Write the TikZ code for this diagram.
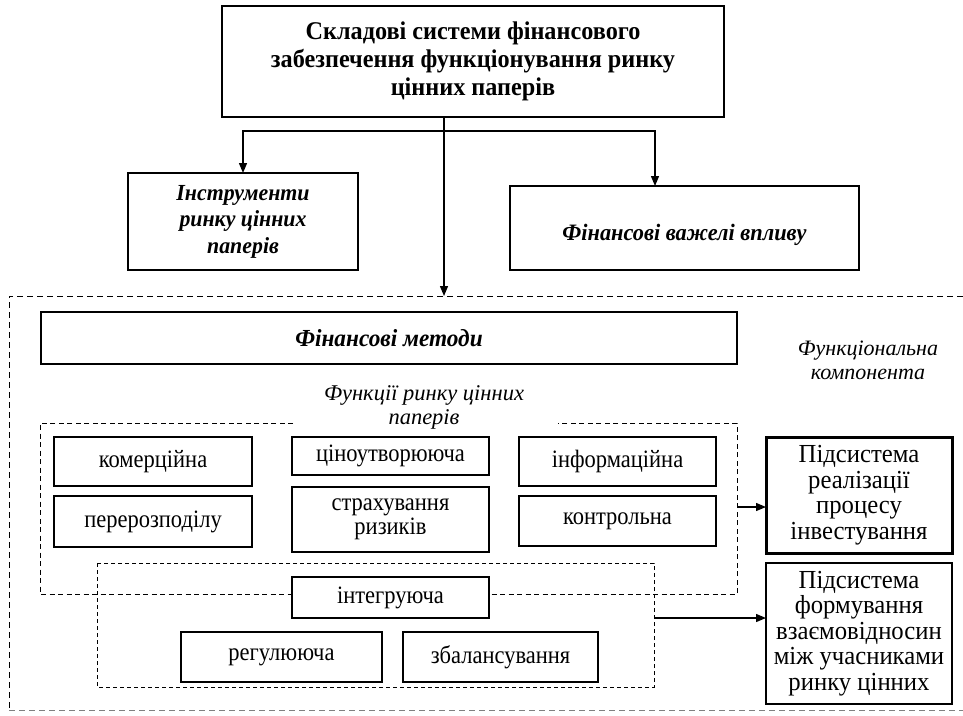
\documentclass[tikz,border=0pt]{standalone}
\usepackage{fontspec}
\setmainfont{Liberation Serif}
\newfontfamily\condfont[FakeStretch=0.9]{Liberation Serif}
\newfontfamily\semifont[FakeStretch=0.95]{Liberation Serif}
\usetikzlibrary{arrows.meta}
\tikzset{
  box/.style={draw, line width=1.1pt, align=center, inner sep=0pt, outer sep=0pt, fill=white},
  titlefont/.style={font=\semifont\fontsize{25.5}{28}\selectfont\bfseries},
  bifont/.style={font=\semifont\fontsize{23}{26.5}\selectfont\bfseries\itshape},
  fnfont/.style={font=\condfont\fontsize{25}{24}\selectfont},
  subfont/.style={font=\semifont\fontsize{26}{25.5}\selectfont},
  itlabel/.style={align=center, inner sep=0pt, font=\fontsize{22.5}{24}\selectfont\itshape},
  arr/.style={line width=1.3pt, -{Triangle[length=10pt,width=8pt]}},
  conn/.style={line width=1.3pt},
  outerdash/.style={line width=1pt, dash pattern=on 6pt off 4pt},
  grpdash/.style={line width=1pt, dash pattern=on 5pt off 3.5pt},
  intdash/.style={line width=1pt, dash pattern=on 4pt off 3pt},
}
\begin{document}
\begin{tikzpicture}[x=1pt,y=-1pt]
\useasboundingbox (0,0) rectangle (963,715);
\fill[white] (0,0) rectangle (963,715);

% outer dashed frame
\draw[outerdash] (963,296) -- (9,296) -- (9,710);
\draw[outerdash, gray] (9,710) -- (963,710);

% top part
\node[box, titlefont, line width=1.4pt, minimum width=502pt, minimum height=111pt] (top) at (473,61.5)
  {Складові системи фінансового\\забезпечення функціонування ринку\\цінних паперів};
\node[box, bifont, minimum width=230pt, minimum height=97pt] (instr) at (243,221.5)
  {Інструменти\\ринку цінних\\паперів};
\node[box, bifont, minimum width=349pt, minimum height=84pt, font=\semifont\fontsize{23.5}{26}\selectfont\bfseries\itshape] (levers) at (684.5,228)
  {\raisebox{-12pt}[0pt][0pt]{Фінансові важелі впливу}};

\coordinate (jc) at (444,131);
\coordinate (hR) at (655,131);
\coordinate (otop) at (444,296);
\draw[conn] (top.south -| jc) -- (jc);
\draw[arr] (jc) -| (instr.north);
\draw[arr] (jc) -- (hR) -- (hR |- levers.north);
\draw[arr] (jc) -- (otop);

% methods
\node[box, bifont, minimum width=696pt, minimum height=52pt, font=\semifont\fontsize{24.5}{26}\selectfont\bfseries\itshape] (methods) at (389,338)
  {Фінансові методи};
\node[itlabel, font=\fontsize{22}{24}\selectfont\itshape] (fcomp) at (868,360) {Функціональна\\компонента};
\node[itlabel] (flabel) at (424,407) {Функції ринку цінних\\паперів};

% function group dashed frame
\draw[grpdash] (293,423) -| (40,594) -| (737,423) -- (558,423);
% integration group dashed frame
\draw[intdash] (97,563) rectangle (654,687);

% function boxes
\node[box, fnfont, minimum width=198pt, minimum height=49pt] (kom) at (153,461.5) {комерційна};
\node[box, fnfont, minimum width=198pt, minimum height=51pt] (per) at (153,521.5) {перерозподілу};
\node[box, fnfont, minimum width=197pt, minimum height=38pt] (cin) at (390.5,456) {ціноутворююча};
\node[box, fnfont, minimum width=197pt, minimum height=65pt] (str) at (390.5,519.5) {страхування\\ризиків};
\node[box, fnfont, minimum width=197pt, minimum height=49pt] (inf) at (617.5,461.5) {інформаційна};
\node[box, fnfont, minimum width=197pt, minimum height=50pt] (kon) at (617.5,521) {контрольна};
\node[box, fnfont, minimum width=197pt, minimum height=41pt] (integ) at (390.5,597.5) {інтегруюча};
\node[box, fnfont, minimum width=201pt, minimum height=50pt] (reg) at (281.5,657) {регулююча};
\node[box, fnfont, minimum width=195pt, minimum height=50pt] (zbal) at (500.5,657) {збалансування};

% subsystems
\node[box, subfont, line width=3pt, minimum width=186pt, minimum height=116pt] (sub1) at (859,495)
  {Підсистема\\реалізації\\процесу\\інвестування};
\node[box, subfont, line width=2pt, minimum width=186pt, minimum height=141pt] (sub2) at (859,633.5)
  {Підсистема\\формування\\взаємовідносин\\між учасниками\\ринку цінних};

\coordinate (fr) at (737,507);
\coordinate (ir) at (654,618);
\draw[arr] (fr) -- (fr -| sub1.west);
\draw[arr] (ir) -- (ir -| sub2.west);
\end{tikzpicture}
\end{document}
